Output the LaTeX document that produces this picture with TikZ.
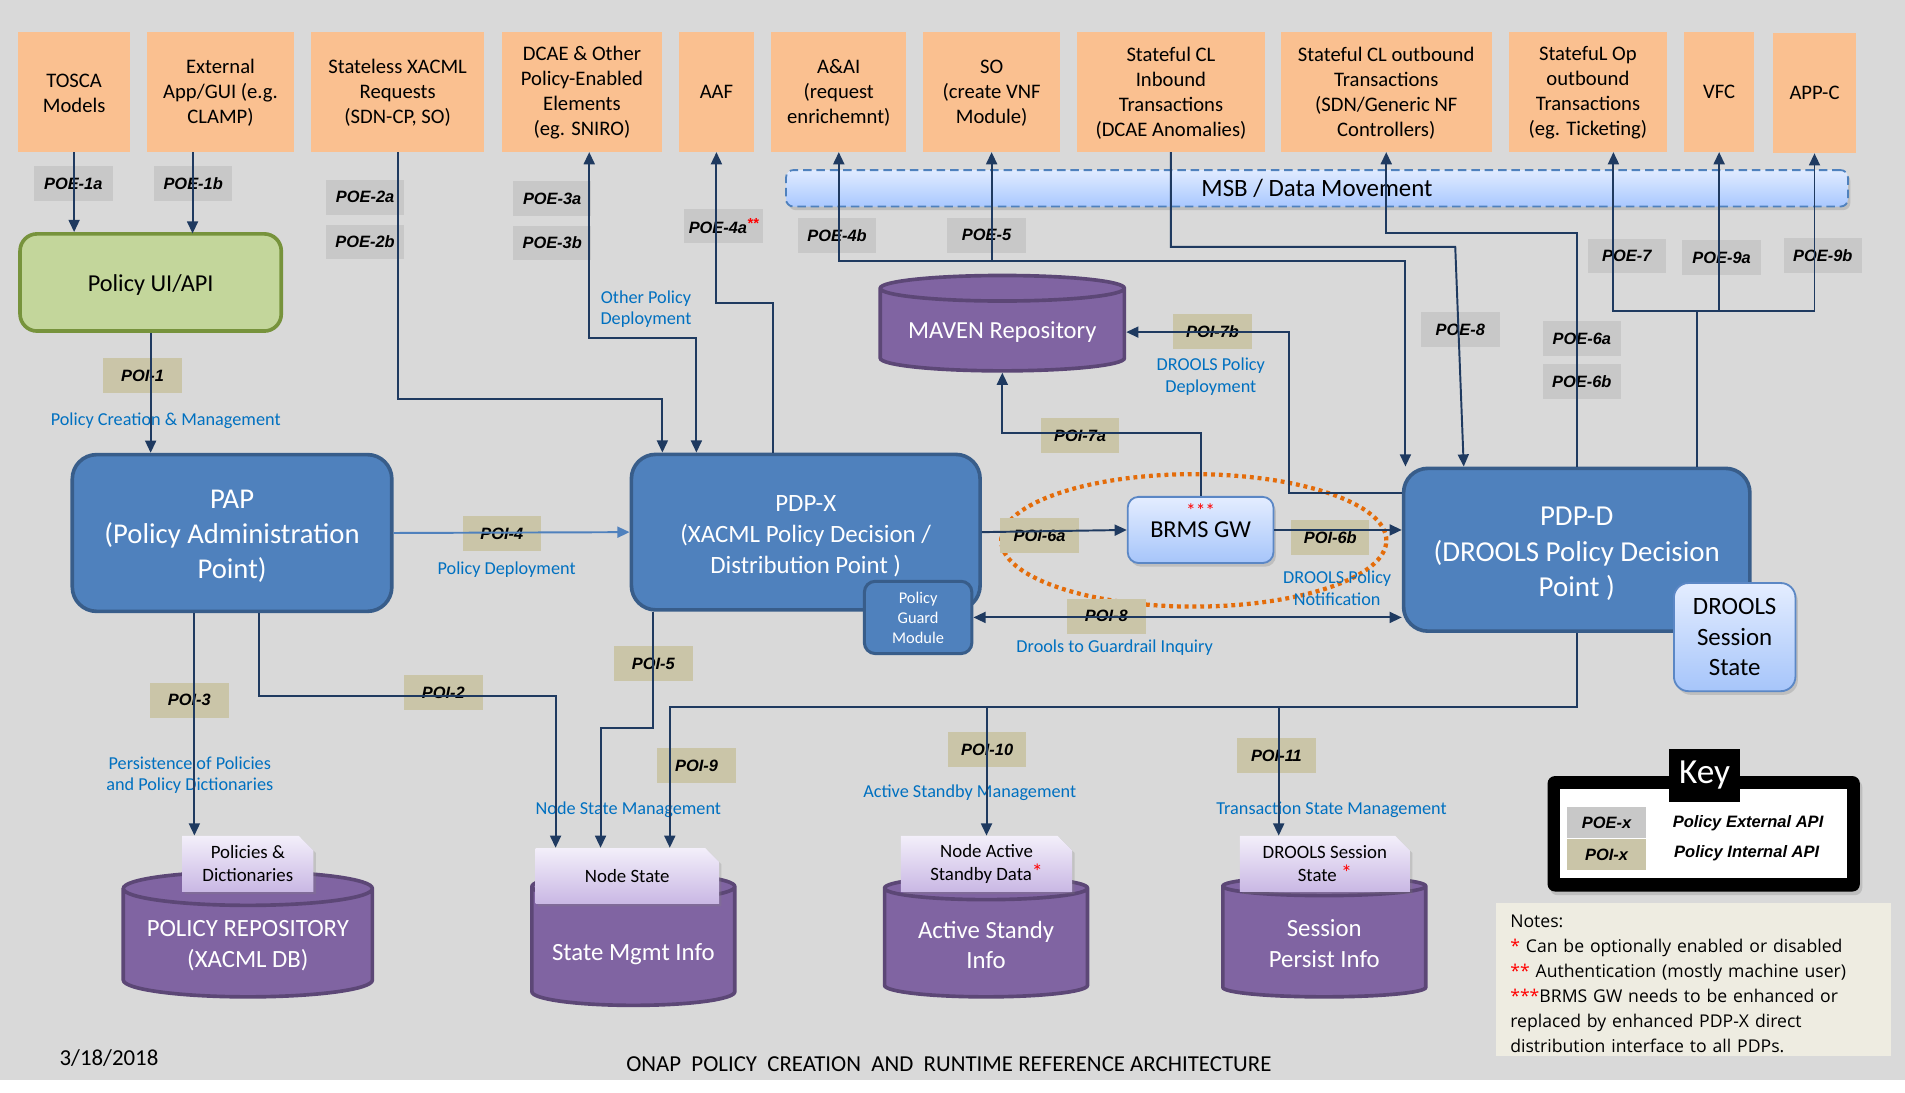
\documentclass[tikz,border=0pt]{standalone}
\usepackage{fontspec}
\setmainfont{Carlito}
\newfontfamily\apifont{Liberation Sans}
\newfontfamily\notesfont{Open Sans}
\usetikzlibrary{positioning,arrows.meta,shapes.geometric,shapes.misc,shadows}

\definecolor{bggray}{HTML}{D9D9D9}
\definecolor{extorange}{HTML}{FAC090}
\definecolor{poegray}{HTML}{C8C8C8}
\definecolor{poitan}{HTML}{CAC5A8}
\definecolor{wire}{HTML}{1F3A60}
\definecolor{pdpblue}{HTML}{4F81BD}
\definecolor{pdpedge}{HTML}{385D8A}
\definecolor{uigreen}{HTML}{C3D69B}
\definecolor{uiedge}{HTML}{77933C}
\definecolor{dbpurple}{HTML}{8064A2}
\definecolor{dbedge}{HTML}{5C4776}
\definecolor{textblue}{HTML}{0070C0}
\definecolor{ringorange}{HTML}{E46C0A}
\definecolor{notesbeige}{HTML}{EEECE1}
\definecolor{gwtop}{HTML}{E4EDFF}
\definecolor{gwbottom}{HTML}{A6C5FA}
\definecolor{gwedge}{HTML}{5B87C5}
\definecolor{tabtop}{HTML}{F3EFFA}
\definecolor{tabbottom}{HTML}{C9B7E4}
\definecolor{msbtop}{HTML}{E0EBFF}
\definecolor{msbbottom}{HTML}{A9C8FF}
\definecolor{msbedge}{HTML}{4F81BD}

\newcommand{\fsz}[2]{\fontsize{#1}{#2}\selectfont}

\begin{document}
\begin{tikzpicture}[x=1pt,y=-1pt,
		extbox/.style={rectangle,fill=extorange,align=center,inner sep=0pt,minimum height=99pt,font=\fsz{17}{20.6}},
		pdp/.style={rectangle,rounded corners=20pt,fill=pdpblue,draw=pdpedge,line width=3pt,text=white,align=center},
		gw/.style={rectangle,rounded corners=9pt,top color=gwtop,bottom color=gwbottom,draw=gwedge,line width=1.5pt,align=center,drop shadow={opacity=0.3,shadow xshift=2pt,shadow yshift=-3pt}},
		db/.style={cylinder,shape border rotate=90,aspect=0.16,fill=dbpurple,draw=dbedge,line width=3pt,text=white,align=center,font=\fsz{20.4}{25},anchor=shape center},
		dbtab/.style={chamfered rectangle,chamfered rectangle corners=north east,chamfered rectangle xsep=6pt,chamfered rectangle ysep=6pt,top color=tabtop,bottom color=tabbottom,align=center,minimum height=46pt,inner sep=0pt,font=\fsz{15.5}{19},drop shadow={opacity=0.25,shadow xshift=2pt,shadow yshift=-2pt}},
		poe/.style={rectangle,fill=poegray,minimum width=64.6pt,minimum height=28.5pt,inner sep=0pt,font=\apifont\bfseries\itshape\fsz{13.5}{16}},
		poi/.style={poe,fill=poitan},
		note/.style={text=textblue,align=center,inner sep=0pt,font=\fsz{15}{18}},
		conn/.style={draw=wire,line width=1.6pt,-{Triangle[length=10pt,width=9pt]}},
		twoway/.style={conn,{Triangle[length=10pt,width=9pt]}-{Triangle[length=10pt,width=9pt]}}]
	\useasboundingbox (0,0) rectangle (1568,899);
	\fill[bggray] (0,0) rectangle (1568,889);

	\node[extbox,minimum width=92pt]	(tosca)		at (61,75.5)		{\rule{0pt}{14pt}TOSCA\\Models};
	\node[extbox,minimum width=121pt]	(ext)		at (181.5,75.5)		{\rule{0pt}{14pt}External\\App/GUI (e.g.\\CLAMP)};
	\node[extbox,minimum width=142pt]	(stateless)	at (327.3,75.5)		{\rule{0pt}{14pt}Stateless XACML\\Requests\\(SDN-CP, SO)};
	\node[extbox,minimum width=132pt]	(dcae)		at (479,75.5)		{\rule{0pt}{14pt}DCAE \& Other\\Policy-Enabled\\Elements\\(eg. SNIRO)};
	\node[extbox,minimum width=61pt]	(aaf)		at (589.7,75.5)		{AAF};
	\node[extbox,minimum width=111pt]	(aai)		at (690.4,75.5)		{\rule{0pt}{14pt}A\&AI\\(request\\enrichemnt)};
	\node[extbox,minimum width=113pt]	(so)		at (816.2,75.5)		{\rule{0pt}{14pt}SO\\(create VNF\\Module)};
	\node[extbox,minimum width=154pt]	(clin)		at (963.8,75.5)		{\rule{0pt}{14pt}Stateful CL\\Inbound\\Transactions\\(DCAE Anomalies)};
	\node[extbox,minimum width=174pt]	(clout)		at (1141,75.5)		{\rule{0pt}{14pt}Stateful CL outbound\\Transactions\\(SDN/Generic NF\\Controllers)};
	\node[extbox,minimum width=130pt]	(opout)		at (1307,75.5)		{\rule{0pt}{14pt}StatefuL Op\\outbound\\Transactions\\(eg. Ticketing)};
	\node[extbox,minimum width=58pt]	(vfc)		at (1415,75.5)		{VFC};
	\node[extbox,minimum width=69pt]	(appc)		at (1493.5,76.5)	{APP-C};

	\node[rectangle,rounded corners=6pt,top color=msbtop,bottom color=msbbottom,draw=msbedge,line width=1.5pt,dash pattern=on 7pt off 4pt,minimum width=874pt,minimum height=30pt,font=\fsz{20.5}{24},drop shadow={opacity=0.3,shadow xshift=2pt,shadow yshift=-3pt}]	(msb)	at (1084,155)	{MSB / Data Movement};

	\node[rectangle,rounded corners=14pt,fill=uigreen,draw=uiedge,line width=3pt,minimum width=215pt,minimum height=80pt,font=\fsz{20}{24}]	(ui)	at (124,232.5)	{\rule{0pt}{18pt}Policy UI/API};
	\node[pdp,minimum width=263pt,minimum height=129pt,font=\fsz{23.6}{28.8}]	(pap)	at (191,438.7)	{\rule{0pt}{21pt}PAP\\(Policy Administration\\Point)};
	\node[pdp,minimum width=287pt,minimum height=128pt,font=\fsz{20.5}{25.5}]	(pdpx)	at (663.2,438)	{\rule{0pt}{20.5pt}PDP-X\\(XACML Policy Decision /\\Distribution Point )};
	\node[pdp,rounded corners=9pt,line width=2.5pt,minimum width=88.5pt,minimum height=59.5pt,inner sep=0pt,font=\fsz{13.5}{16.5}]	(guard)	at (755.7,508.2)	{Policy\\Guard\\Module};
	\node[ellipse,draw=ringorange,line width=3.5pt,dash pattern=on 3.2pt off 3.2pt,minimum width=317pt,minimum height=109pt,inner sep=0pt]	(gwring)	at (982.6,444.8)	{};
	\node[gw,minimum width=120pt,minimum height=54.5pt,text height=13pt,text depth=0pt,font=\fsz{20}{24},label={[text=red,inner sep=0pt,text depth=0pt,label distance=-18pt,font=\fsz{16}{16}]90:***}]	(brms)	at (988.2,436.2)	{BRMS GW};
	\node[pdp,minimum width=285pt,minimum height=134pt,font=\fsz{23.8}{29}]	(pdpd)	at (1297.8,452.5)	{\rule{0pt}{22pt}PDP-D\\(DROOLS Policy Decision\\Point )};
	\node[gw,rounded corners=12pt,minimum width=100pt,minimum height=89pt,font=\fsz{20.5}{25}]	(session)	at (1427.8,524.4)	{DROOLS\\Session\\State};
	\node[db,aspect=0.13,minimum width=201pt,minimum height=78.5pt,font=\fsz{20.2}{24}]	(maven)	at (825,266)	{MAVEN Repository};

	\node[db,minimum width=205pt,minimum height=103pt]	(repo)		at (204,769)	{POLICY REPOSITORY\\(XACML DB)};
	\node[db,minimum width=167pt,minimum height=109pt]	(statedb)	at (521.3,773)	{\rule{0pt}{22pt}State Mgmt Info};
	\node[db,minimum width=167pt,minimum height=99pt]	(activedb)	at (811.6,771)	{Active Standy\\Info};
	\node[db,minimum width=167pt,minimum height=99pt]	(sessiondb)	at (1090,771)	{Session\\Persist Info};
	\node[dbtab,minimum width=108pt]	(poltab)	at (204,711)	{Policies \&\\Dictionaries};
	\node[dbtab,minimum width=151pt]	(nstab)		at (516.3,721)	{Node State};
	\node[dbtab,minimum width=141pt]	(astab)		at (812,711)	{Node Active\\Standby Data\textcolor{red}{\raisebox{1pt}{\fsz{18}{18}*}}};
	\node[dbtab,minimum width=140pt]	(sptab)		at (1090.5,711)	{DROOLS Session\\State \textcolor{red}{\raisebox{1pt}{\fsz{18}{18}*}}};

	\node[poe]	(poe1a)	at (60.3,151)		{POE-1a};
	\node[poe]	(poe1b)	at (159,151)		{POE-1b};
	\node[poe]	(poe2a)	at (300.5,162.4)	{POE-2a};
	\node[poe,below=7.8pt of poe2a]	(poe2b)	{POE-2b};
	\node[poe]	(poe3a)	at (454.5,163.3)	{POE-3a};
	\node[poe,below=7.9pt of poe3a]	(poe3b)	{POE-3b};
	\node[poe]	(poe4a)	at (595.6,185.9)	{POE-4a\textcolor{red}{\raisebox{4pt}{\fsz{12}{12}**}}};
	\node[poe]	(poe4b)	at (689,193.9)		{POE-4b};
	\node[poe]	(poe5)	at (812,193.6)		{POE-5};
	\node[poe]	(poe7)	at (1339,210.6)		{POE-7};
	\node[poe]	(poe9a)	at (1417,212)		{POE-9a};
	\node[poe]	(poe9b)	at (1500.3,210.4)	{POE-9b};
	\node[poe]	(poe8)	at (1202,271.2)		{POE-8};
	\node[poe]	(poe6a)	at (1302,278.5)		{POE-6a};
	\node[poe,below=6.5pt of poe6a]	(poe6b)	{POE-6b};
	\node[poi]	(poi1)	at (117.4,309)		{POI-1};
	\node[poi]	(poi4)	at (413,439.3)		{POI-4};
	\node[poi]	(poi7b)	at (998,272.7)		{POI-7b};
	\node[poi]	(poi7a)	at (889,358.7)		{POI-7a};
	\node[poi]	(poi6a)	at (855.7,440.8)	{POI-6a};
	\node[poi]	(poi6b)	at (1094.9,442.3)	{POI-6b};
	\node[poi]	(poi8)	at (910.6,507.3)	{POI-8};
	\node[poi]	(poi3)	at (155.8,576.4)	{POI-3};
	\node[poi]	(poi2)	at (364.9,569.9)	{POI-2};
	\node[poi]	(poi5)	at (537.7,546)		{POI-5};
	\node[poi]	(poi9)	at (573.3,630.3)	{POI-9};
	\node[poi]	(poi10)	at (812.5,616.8)	{POI-10};
	\node[poi]	(poi11)	at (1050.6,621.8)	{POI-11};

	\node[note]	(creation)		at (136.4,346.5)	{Policy Creation \& Management};
	\node[note]	(deployment)	at (417,468.6)		{Policy Deployment};
	\node[note]	(otherdep)		at (531.7,254.5)	{Other Policy\\Deployment};
	\node[note]	(droolsdep)		at (996.6,310)		{DROOLS Policy\\Deployment};
	\node[note]	(droolsnote)	at (1100.6,484.4)	{DROOLS Policy\\Notification};
	\node[note]	(guardrail)		at (917.5,532.8)	{Drools to Guardrail Inquiry};
	\node[note]	(persistence)	at (156.2,638)		{Persistence of Policies\\and Policy Dictionaries};
	\node[note]	(nodemgmt)		at (517.2,666.2)	{Node State Management};
	\node[note]	(standbymgmt)	at (798.2,652.2)	{Active Standby Management};
	\node[note]	(transmgmt)		at (1096,666.4)		{Transaction State Management};

	\draw[conn]		(tosca.south)	--	(tosca.south |- ui.north);
	\draw[conn]		([xshift=-23pt]ext.south)	--	++(0,67);
	\draw[conn]		(ui.south)	--	(ui.south |- pap.north);
	\draw[conn]		(stateless.south)	--	++(0,203)	-|	([xshift=-118pt]pdpx.north);
	\draw[twoway]	([xshift=-90pt]pdpx.north)	--	++(0,-94)	-|	([xshift=6pt]dcae.south);
	\draw[conn]		([xshift=-27pt]pdpx.north)	--	++(0,-123)	-|	(aaf.south);
	\draw[twoway]	([xshift=-141pt]pdpd.north)	--	++(0,-169)	-|	(aai.south);
	\draw[conn]		([yshift=-90pt]so.south)	--	(so.south);
	\draw[conn]		(clin.south)	--	++(0,78)	--	++(234,0)	--	([xshift=-93pt]pdpd.north);
	\draw[conn]		(pdpd.north)	--	++(0,-192)	-|	(clout.south);
	\draw[conn]		([xshift=99pt]pdpd.north)	--	++(0,-128)	-|	([xshift=21pt]opout.south);
	\draw[conn]		([xshift=99pt]pdpd.north)	--	++(0,-128)	-|	(appc.south);
	\draw[conn]		([yshift=-131pt]vfc.south)	--	(vfc.south);
	\draw[conn,draw=pdpblue]	(pap.east)	--	(pdpx.west);
	\draw[conn]		(pdpx.east)	--	(brms.west);
	\draw[conn]		(brms.east)	--	(brms.east -| pdpd.west);
	\draw[conn]		(brms.north)	--	++(0,-52)	-|	(maven.south);
	\draw[conn]		([yshift=47pt]pdpd.west)	--	++(-93,0)	|-	(maven.east);
	\draw[twoway]	(guard.east)	--	(guard.east -| pdpd.west);
	\draw[conn]		([xshift=-31pt]pap.south)	--	++(0,183);
	\draw[conn]		([xshift=22pt]pap.south)	--	++(0,68)	-|	([xshift=-59pt]nstab.north);
	\draw[conn]		([xshift=-126pt]pdpx.south)	--	++(0,96)	-|	([xshift=-22pt]nstab.north);
	\draw[conn]		(pdpd.south)	--	++(0,61)	-|	([xshift=35pt]nstab.north);
	\draw[conn]		([yshift=106pt]astab.north)	--	(astab.north);
	\draw[conn]		([xshift=-38pt,yshift=106pt]sptab.north)	--	([xshift=-38pt]sptab.north);

	\node[fill=black,rounded corners=6pt,minimum width=257pt,minimum height=95pt,drop shadow={opacity=0.3,shadow xshift=2pt,shadow yshift=-3pt}]	(keyframe)	at (1402.3,686.3)	{};
	\node[fill=white,minimum width=236pt,minimum height=73.3pt]	(keyinner)	at (1402,686.4)	{};
	\node[fill=black,text=white,minimum width=58pt,minimum height=43.4pt,inner sep=0pt,font=\fsz{29}{30}]	(keytitle)	at (1403,638.2)	{Key};
	\node[poe,minimum height=25pt]	(keypoe)	at (1322.3,677)	{POE-x};
	\node[poi,minimum height=25pt,below=1pt of keypoe]	(keypoi)	{POI-x};
	\node[font=\apifont\bfseries\itshape\fsz{13.6}{16}]	(keyext)	at (1438.8,677.7)	{Policy External API};
	\node[font=\apifont\bfseries\itshape\fsz{13.6}{16}]	(keyint)	at (1437.7,702.4)	{Policy Internal API};

	\node[anchor=north west,fill=notesbeige,minimum width=325pt,minimum height=126.3pt,text width=302pt,inner xsep=11.5pt,inner ysep=0pt,align=left,font=\notesfont\fsz{14.5}{20.6}]	(notes)	at (1231.4,742.7)	{\rule{0pt}{17.6pt}Notes:\\\textcolor{red}{*} Can be optionally enabled or disabled\\\textcolor{red}{**} Authentication (mostly machine user)\\\textcolor{red}{***}BRMS GW needs to be enhanced or\\replaced by enhanced PDP-X direct\\distribution interface to all PDPs.};

	\node[font=\fsz{18.8}{22}]	(date)	at (89.7,870.6)	{3/18/2018};
	\node[font=\fsz{18.8}{22}]	(title)	at (781,875.8)	{ONAP\ \ POLICY\ \ CREATION\ \ AND\ \ RUNTIME REFERENCE ARCHITECTURE};
\end{tikzpicture}
\end{document}
